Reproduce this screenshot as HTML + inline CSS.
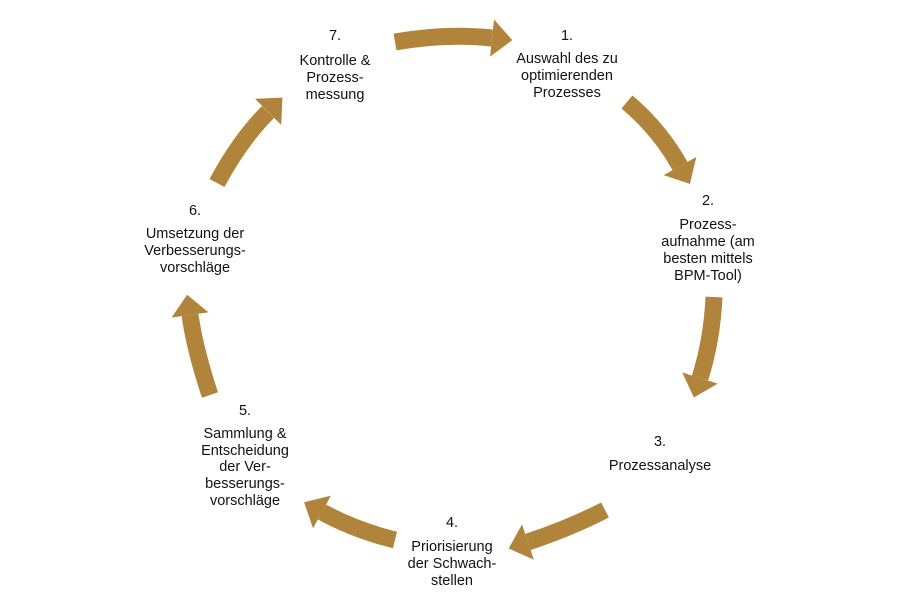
<!DOCTYPE html>
<html><head><meta charset="utf-8"><style>
html,body{margin:0;padding:0;background:#fff;}
svg{display:block}
text{font-family:"Liberation Sans",sans-serif;font-size:14.5px;fill:#111;text-anchor:middle}
</style></head><body>
<svg width="900" height="600" viewBox="0 0 900 600">
<defs>
<marker id="h" markerUnits="strokeWidth" viewBox="0 0 10 10" preserveAspectRatio="none" refX="0" refY="5" markerWidth="1.2" markerHeight="2.2" orient="auto">
<path d="M0,0 L10,5 L0,10 Z" fill="#b0843a"/>
</marker>
</defs>
<g fill="none" stroke="#b0843a" stroke-width="17" marker-end="url(#h)">
<path d="M395,42 Q445,33 492,38"/>
<path d="M627,102 Q660,130 680,166"/>
<path d="M714,297 Q712,340 700,378"/>
<path d="M605,510 Q570,528 528,542"/>
<path d="M395,540 Q355,530 322,512"/>
<path d="M210,395 Q195,350 190,315"/>
<path d="M217,183 Q240,140 268,112"/>
</g>
<text x="335" y="40">7.</text>
<text x="335" y="65">Kontrolle &amp;</text>
<text x="335" y="82">Prozess-</text>
<text x="335" y="99">messung</text>

<text x="567" y="40">1.</text>
<text x="567" y="63">Auswahl des zu</text>
<text x="567" y="80">optimierenden</text>
<text x="567" y="97">Prozesses</text>

<text x="708" y="205">2.</text>
<text x="708" y="229">Prozess-</text>
<text x="708" y="246">aufnahme (am</text>
<text x="708" y="263">besten mittels</text>
<text x="708" y="280">BPM-Tool)</text>

<text x="660" y="446">3.</text>
<text x="660" y="470">Prozessanalyse</text>

<text x="452" y="527">4.</text>
<text x="452" y="551">Priorisierung</text>
<text x="452" y="568">der Schwach-</text>
<text x="452" y="585">stellen</text>

<text x="245" y="415">5.</text>
<text x="245" y="438">Sammlung &amp;</text>
<text x="245" y="455">Entscheidung</text>
<text x="245" y="471">der Ver-</text>
<text x="245" y="488">besserungs-</text>
<text x="245" y="505">vorschläge</text>

<text x="195" y="215">6.</text>
<text x="195" y="238">Umsetzung der</text>
<text x="195" y="255">Verbesserungs-</text>
<text x="195" y="272">vorschläge</text>
</svg>
</body></html>
